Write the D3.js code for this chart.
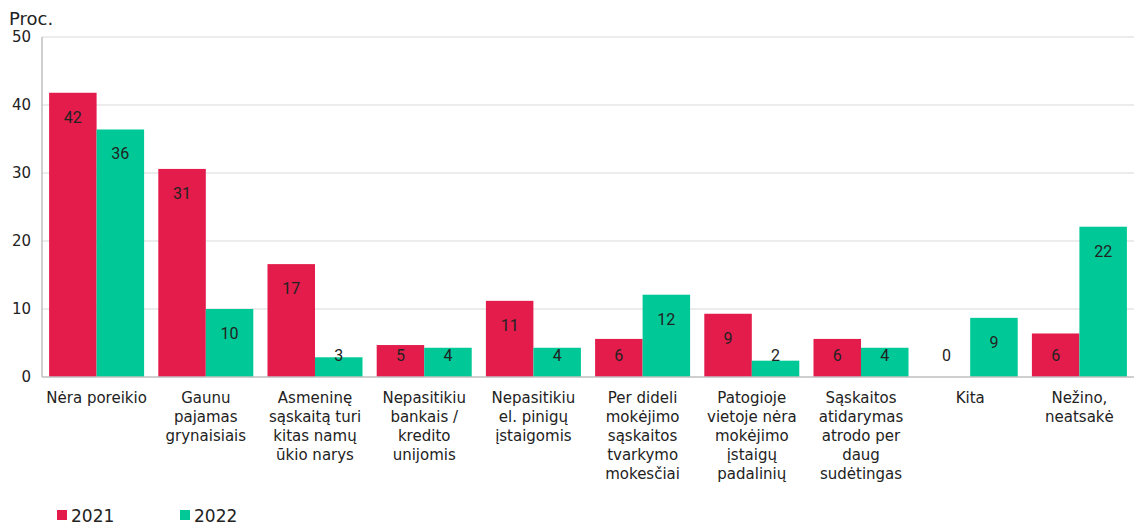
<!DOCTYPE html>
<html>
<head>
<meta charset="utf-8">
<script src="https://cdn.jsdelivr.net/npm/d3@7"></script>
<style>
  body { margin: 0; background: #fff; }
  svg text { fill: #222; }
</style>
</head>
<body>
<svg id="chart"></svg>
<script>
// categories, multi-line labels
const categories = [
    ["Nėra poreikio"],
    ["Gaunu", "pajamas", "grynaisiais"],
    ["Asmeninę", "sąskaitą turi", "kitas namų", "ūkio narys"],
    ["Nepasitikiu", "bankais /", "kredito", "unijomis"],
    ["Nepasitikiu", "el. pinigų", "įstaigomis"],
    ["Per dideli", "mokėjimo", "sąskaitos", "tvarkymo", "mokesčiai"],
    ["Patogioje", "vietoje nėra", "mokėjimo", "įstaigų", "padalinių"],
    ["Sąskaitos", "atidarymas", "atrodo per", "daug", "sudėtingas"],
    ["Kita"],
    ["Nežino,", "neatsakė"]
];
const values2021 = [41.8, 30.6, 16.6, 4.7, 11.2, 5.6, 9.3, 5.6, 0, 6.4];
const values2022 = [36.4, 10.0, 2.9, 4.3, 4.3, 12.1, 2.4, 4.3, 8.7, 22.1];
const years = ["2021", "2022"];
const colors = ["#e31c4b", "#00c997"];
const yTicks = [0, 10, 20, 30, 40, 50];

const width = 1134, height = 526;
const margin = { top: 37, right: 0, bottom: 149, left: 42 };

const svg = d3.select("#chart")
    .attr("width", width)
    .attr("height", height);

const x = d3.scaleBand()
    .domain(d3.range(categories.length))
    .range([margin.left, width - margin.right])
    .paddingInner(0.13)
    .paddingOuter(0.065);

const x1 = d3.scaleBand()
    .domain(years)
    .range([0, x.bandwidth()]);

const y = d3.scaleLinear()
    .domain([0, 50])
    .range([height - margin.bottom, margin.top]);

// gridlines
svg.append("g")
    .selectAll("line")
    .data(yTicks.slice(1))
    .enter().append("line")
    .attr("x1", margin.left)
    .attr("x2", width - margin.right)
    .attr("y1", d => y(d))
    .attr("y2", d => y(d))
    .attr("stroke", "#d9d9d9")
    .attr("stroke-width", 1);

// y tick labels
svg.append("g")
    .selectAll("text")
    .data(yTicks)
    .enter().append("text")
    .attr("x", 31)
    .attr("y", d => y(d) + 5)
    .attr("text-anchor", "end")
    .style("font-family", "'DejaVu Sans', Verdana, sans-serif")
    .style("font-size", "15px")
    .text(d => d);

svg.append("text")
    .attr("x", 9)
    .attr("y", 25)
    .style("font-family", "'DejaVu Sans', Verdana, sans-serif")
    .style("font-size", "18px")
    .text("Proc.");

const series = [values2021, values2022];

// bars
const groups = svg.append("g")
    .selectAll("g")
    .data(series)
    .enter().append("g")
    .attr("fill", (d, i) => colors[i]);

groups.each(function(vals, si) {
    const g = d3.select(this);
    g.selectAll("rect")
        .data(vals)
        .enter().append("rect")
        .attr("x", (d, i) => x(i) + x1(years[si]))
        .attr("y", d => y(d))
        .attr("width", x1.bandwidth())
        .attr("height", d => y(0) - y(d));

    g.selectAll("text")
        .data(vals)
        .enter().append("text")
        .attr("x", (d, i) => x(i) + x1(years[si]) + x1.bandwidth() / 2)
        .attr("y", d => Math.min(y(d) + 24, y(0) - 22) + 6)
        .attr("text-anchor", "middle")
        .style("font-family", "'Liberation Sans Narrow', 'Arial Narrow', Roboto, sans-serif")
        .style("font-size", "16px")
        .text(d => Math.round(d));
});

// axes lines
svg.append("line")
    .attr("x1", margin.left).attr("x2", margin.left)
    .attr("y1", y(50)).attr("y2", y(0))
    .attr("stroke", "#bfbfbf").attr("stroke-width", 1.5);
svg.append("line")
    .attr("x1", margin.left).attr("x2", width)
    .attr("y1", y(0)).attr("y2", y(0))
    .attr("stroke", "#bfbfbf").attr("stroke-width", 1.5);

// category labels
const catLabels = svg.append("g")
    .selectAll("text")
    .data(categories)
    .enter().append("text")
    .attr("text-anchor", "middle")
    .style("font-family", "'DejaVu Sans', Verdana, sans-serif")
    .style("font-size", "15px");

catLabels.each(function(lines, i) {
    d3.select(this).selectAll("tspan")
        .data(lines)
        .enter().append("tspan")
        .attr("x", x(i) + x.bandwidth() / 2)
        .attr("y", (d, j) => 403 + j * 19)
        .text(d => d);
});

// legend
const legend = svg.append("g")
    .selectAll("g")
    .data(years)
    .enter().append("g")
    .attr("transform", (d, i) => `translate(${57 + i * 123}, 510)`);

legend.append("rect")
    .attr("width", 10)
    .attr("height", 10)
    .attr("fill", (d, i) => colors[i]);

legend.append("text")
    .attr("x", 14)
    .attr("y", 12)
    .style("font-family", "'DejaVu Sans', Verdana, sans-serif")
    .style("font-size", "17px")
    .text(d => d);
</script>
</body>
</html>
